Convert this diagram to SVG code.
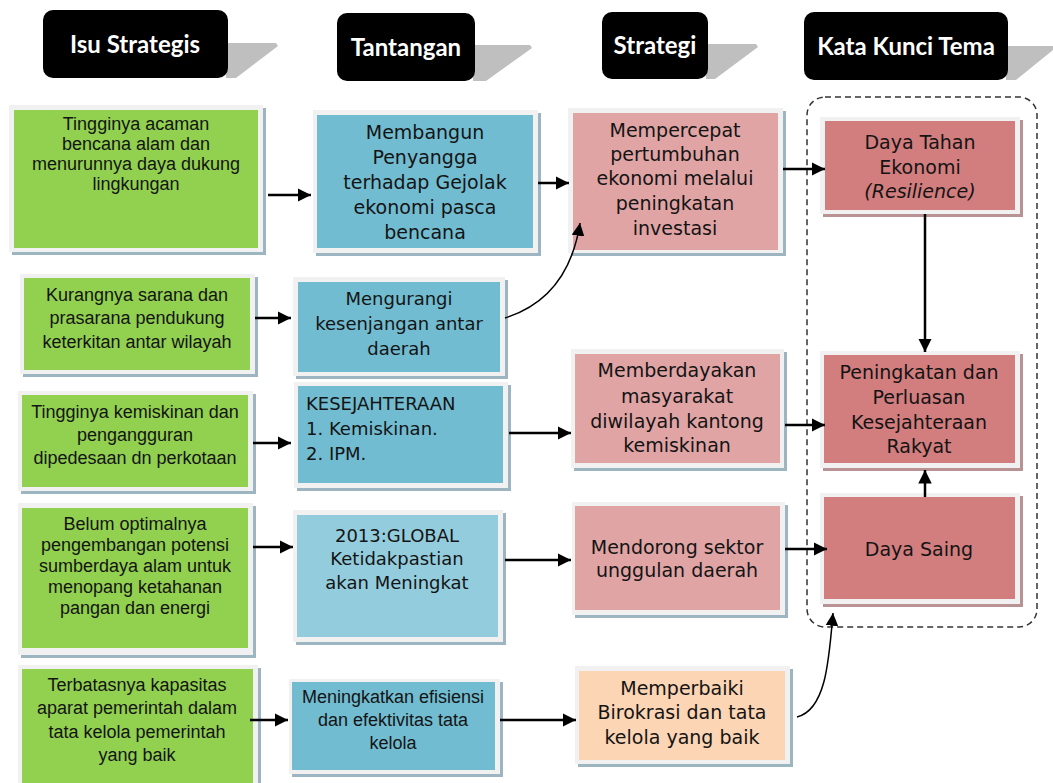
<svg xmlns="http://www.w3.org/2000/svg" width="1053" height="783" viewBox="0 0 1053 783">
<defs>
<style>
.hdr{fill:#000}
.wedge{fill:#bfbfbf}
.ht{font-family:Lato,"Open Sans",sans-serif;font-weight:bold;font-size:24px;fill:#fff;text-anchor:middle}
.frame{fill:#f1f1f1}
.sh{fill:#9db5c0}
.shk{fill:#b99293}
.g{fill:#92d050}
.b{fill:#71bcd1}
.bl{fill:#93cddd}
.p{fill:#e0a4a5}
.k{fill:#d27d7e}
.o{fill:#fcd5b5}
.ta{font-family:"Liberation Sans",Arial,sans-serif;font-size:18px;fill:#141414;text-anchor:middle}
.tv{font-family:"DejaVu Sans",Verdana,sans-serif;font-size:19px;fill:#141414;text-anchor:middle}
.tv18{font-family:"DejaVu Sans",Verdana,sans-serif;font-size:18px;fill:#141414;text-anchor:middle}
.tvl{font-family:"DejaVu Sans",Verdana,sans-serif;font-size:18px;fill:#141414;text-anchor:start}
.con{stroke:#000;stroke-width:2.5;fill:none}
.cur{stroke:#000;stroke-width:1.5;fill:none}
</style>
<marker id="ah" viewBox="0 0 10 10" refX="10" refY="5" markerWidth="5.4" markerHeight="5.4" markerUnits="strokeWidth" orient="auto">
<path d="M0,0 L10,5 L0,10 z" fill="#000"/>
</marker>
<marker id="ah2" viewBox="0 0 10 10" refX="10" refY="5" markerWidth="8.5" markerHeight="8.5" markerUnits="strokeWidth" orient="auto">
<path d="M0,0 L10,5 L0,10 z" fill="#000"/>
</marker>
</defs>
<rect width="1053" height="783" fill="#fff"/>

<g id="hdr-isu">
<polygon class="wedge" points="226,43 276,43 278,46 236,78 226,78"/>
<rect class="hdr" x="43" y="10" width="185" height="68" rx="10"/>
<text class="ht" x="135" y="53">Isu Strategis</text>
</g>
<g id="hdr-tantangan">
<polygon class="wedge" points="473,45 530,45 532,48 486,81 473,81"/>
<rect class="hdr" x="337" y="13" width="138" height="68" rx="10"/>
<text class="ht" x="406" y="56">Tantangan</text>
</g>
<g id="hdr-strategi">
<polygon class="wedge" points="706,44 756,44 758,47 715,79 706,79"/>
<rect class="hdr" x="602" y="12" width="106" height="67" rx="10"/>
<text class="ht" x="655" y="54">Strategi</text>
</g>
<g id="hdr-kata">
<polygon class="wedge" points="1006,46 1053,46 1053,50 1016,80 1006,80"/>
<rect class="hdr" x="804" y="12" width="204" height="68" rx="10"/>
<text class="ht" x="906" y="55">Kata Kunci Tema</text>
</g>

<rect id="group-tema" x="807" y="97" width="230" height="530" rx="18" fill="none" stroke="#333" stroke-width="1.5" stroke-dasharray="6 4"/>

<g id="isu1">
<rect class="sh" x="12" y="108" width="254" height="147"/>
<rect class="frame" x="9" y="105" width="254" height="147"/>
<rect class="g" x="14" y="110" width="244" height="138"/>
<text class="ta" x="136" y="130">Tingginya acaman</text>
<text class="ta" x="136" y="150">bencana alam dan</text>
<text class="ta" x="136" y="170">menurunnya daya dukung</text>
<text class="ta" x="136" y="190">lingkungan</text>
</g>
<g id="tan1">
<rect class="sh" x="316" y="113" width="225" height="143"/>
<rect class="frame" x="313" y="110" width="225" height="143"/>
<rect class="b" x="317" y="115" width="216" height="133"/>
<text class="tv" x="425" y="139">Membangun</text>
<text class="tv" x="425" y="164">Penyangga</text>
<text class="tv" x="425" y="189">terhadap Gejolak</text>
<text class="tv" x="425" y="214">ekonomi pasca</text>
<text class="tv" x="425" y="239">bencana</text>
</g>
<g id="str1">
<rect class="sh" x="571" y="111" width="215" height="145"/>
<rect class="frame" x="568" y="108" width="215" height="145"/>
<rect class="p" x="573" y="113" width="205" height="137"/>
<text class="tv" x="675" y="137">Mempercepat</text>
<text class="tv" x="675" y="161">pertumbuhan</text>
<text class="tv" x="675" y="185">ekonomi melalui</text>
<text class="tv" x="675" y="210">peningkatan</text>
<text class="tv" x="675" y="235">investasi</text>
</g>
<g id="tema1">
<rect class="shk" x="823" y="120" width="200" height="97"/>
<rect class="frame" x="820" y="117" width="200" height="97"/>
<rect class="k" x="825" y="121" width="190" height="89"/>
<text class="tv" x="920" y="149">Daya Tahan</text>
<text class="tv" x="920" y="174">Ekonomi</text>
<text class="tv" x="920" y="198" font-style="italic">(Resilience)</text>
</g>

<g id="isu2">
<rect class="sh" x="23" y="277" width="235" height="100"/>
<rect class="frame" x="20" y="274" width="235" height="100"/>
<rect class="g" x="24" y="278" width="226" height="92"/>
<text class="ta" x="137" y="301">Kurangnya sarana dan</text>
<text class="ta" x="137" y="324">prasarana pendukung</text>
<text class="ta" x="137" y="348">keterkitan antar wilayah</text>
</g>
<g id="tan2">
<rect class="sh" x="296" y="280" width="212" height="99"/>
<rect class="frame" x="293" y="277" width="212" height="99"/>
<rect class="b" x="298" y="282" width="202" height="90"/>
<text class="tv18" x="399" y="305">Mengurangi</text>
<text class="tv18" x="399" y="330">kesenjangan antar</text>
<text class="tv18" x="399" y="355">daerah</text>
</g>

<g id="isu3">
<rect class="sh" x="21" y="394" width="235" height="100"/>
<rect class="frame" x="18" y="391" width="235" height="100"/>
<rect class="g" x="22" y="395" width="226" height="92"/>
<text class="ta" x="135" y="418">Tingginya kemiskinan dan</text>
<text class="ta" x="135" y="441">pengangguran</text>
<text class="ta" x="135" y="464">dipedesaan dn perkotaan</text>
</g>
<g id="tan3">
<rect class="sh" x="297" y="385" width="214" height="106"/>
<rect class="frame" x="294" y="382" width="214" height="106"/>
<rect class="b" x="298" y="386" width="205" height="97"/>
<text class="tvl" x="306" y="410">KESEJAHTERAAN</text>
<text class="tvl" x="306" y="435">1. Kemiskinan.</text>
<text class="tvl" x="306" y="460">2. IPM.</text>
</g>
<g id="str2">
<rect class="sh" x="574" y="352" width="213" height="119"/>
<rect class="frame" x="571" y="349" width="213" height="119"/>
<rect class="p" x="575" y="354" width="205" height="109"/>
<text class="tv" x="677" y="377">Memberdayakan</text>
<text class="tv" x="677" y="403">masyarakat</text>
<text class="tv" x="677" y="428">diwilayah kantong</text>
<text class="tv" x="677" y="452">kemiskinan</text>
</g>
<g id="tema2">
<rect class="shk" x="823" y="354" width="200" height="117"/>
<rect class="frame" x="820" y="351" width="200" height="117"/>
<rect class="k" x="824" y="355" width="191" height="108"/>
<text class="tv" x="919" y="379">Peningkatan dan</text>
<text class="tv" x="919" y="404">Perluasan</text>
<text class="tv" x="919" y="429">Kesejahteraan</text>
<text class="tv" x="919" y="453">Rakyat</text>
</g>

<g id="isu4">
<rect class="sh" x="21" y="506" width="235" height="152"/>
<rect class="frame" x="18" y="503" width="235" height="152"/>
<rect class="g" x="22" y="508" width="226" height="140"/>
<text class="ta" x="135" y="530">Belum optimalnya</text>
<text class="ta" x="135" y="551">pengembangan potensi</text>
<text class="ta" x="135" y="572">sumberdaya alam untuk</text>
<text class="ta" x="135" y="593">menopang ketahanan</text>
<text class="ta" x="135" y="614">pangan dan energi</text>
</g>
<g id="tan4">
<rect class="sh" x="296" y="513" width="210" height="132"/>
<rect class="frame" x="293" y="510" width="210" height="132"/>
<rect class="bl" x="297" y="515" width="201" height="122"/>
<text class="tv18" x="397" y="542">2013:GLOBAL</text>
<text class="tv18" x="397" y="565">Ketidakpastian</text>
<text class="tv18" x="397" y="589">akan Meningkat</text>
</g>
<g id="str3">
<rect class="sh" x="575" y="505" width="213" height="113"/>
<rect class="frame" x="572" y="502" width="213" height="113"/>
<rect class="p" x="575" y="506" width="205" height="104"/>
<text class="tv" x="677" y="554">Mendorong sektor</text>
<text class="tv" x="677" y="577">unggulan daerah</text>
</g>
<g id="tema3">
<rect class="shk" x="823" y="496" width="200" height="111"/>
<rect class="frame" x="820" y="493" width="200" height="111"/>
<rect class="k" x="824" y="497" width="191" height="102"/>
<text class="tv" x="919" y="556">Daya Saing</text>
</g>

<g id="isu5">
<rect class="sh" x="21" y="668" width="240" height="125"/>
<rect class="frame" x="18" y="665" width="240" height="125"/>
<rect class="g" x="22" y="669" width="231" height="120"/>
<text class="ta" x="137" y="691">Terbatasnya kapasitas</text>
<text class="ta" x="137" y="714">aparat pemerintah dalam</text>
<text class="ta" x="137" y="738">tata kelola pemerintah</text>
<text class="ta" x="137" y="761">yang baik</text>
</g>
<g id="tan5">
<rect class="sh" x="292" y="682" width="211" height="95"/>
<rect class="frame" x="289" y="679" width="211" height="95"/>
<rect class="b" x="292" y="682" width="203" height="88"/>
<text class="ta" x="393" y="703">Meningkatkan efisiensi</text>
<text class="ta" x="393" y="726">dan efektivitas tata</text>
<text class="ta" x="393" y="749">kelola</text>
</g>
<g id="str5">
<rect class="sh" x="578" y="669" width="215" height="98"/>
<rect class="frame" x="575" y="666" width="215" height="98"/>
<rect class="o" x="579" y="671" width="206" height="89"/>
<text class="tv" x="682" y="695">Memperbaiki</text>
<text class="tv" x="682" y="719">Birokrasi dan tata</text>
<text class="tv" x="682" y="744">kelola yang baik</text>
</g>

<g id="connectors">
<line class="con" x1="268" y1="195" x2="311" y2="195" marker-end="url(#ah)"/>
<line class="con" x1="538" y1="183" x2="569" y2="183" marker-end="url(#ah)"/>
<line class="con" x1="783" y1="169" x2="825" y2="169" marker-end="url(#ah)"/>
<line class="con" x1="255" y1="318" x2="291" y2="318" marker-end="url(#ah)"/>
<path class="cur" d="M505,318 C556,302 574,262 580,223" marker-end="url(#ah2)"/>
<line class="con" x1="253" y1="443" x2="291" y2="443" marker-end="url(#ah)"/>
<line class="con" x1="509" y1="433" x2="571" y2="433" marker-end="url(#ah)"/>
<line class="con" x1="785" y1="425" x2="825" y2="425" marker-end="url(#ah)"/>
<line class="con" x1="925" y1="214" x2="925" y2="352" marker-end="url(#ah)"/>
<line class="con" x1="925" y1="497" x2="925" y2="470" marker-end="url(#ah)"/>
<line class="con" x1="253" y1="547" x2="293" y2="547" marker-end="url(#ah)"/>
<line class="con" x1="505" y1="560" x2="571" y2="560" marker-end="url(#ah)"/>
<line class="con" x1="785" y1="549" x2="827" y2="549" marker-end="url(#ah)"/>
<line class="con" x1="250" y1="720" x2="288" y2="720" marker-end="url(#ah)"/>
<line class="con" x1="500" y1="720" x2="576" y2="720" marker-end="url(#ah)"/>
<path class="cur" d="M797,717 C826,710 829,660 833,613" marker-end="url(#ah2)"/>
</g>
</svg>
